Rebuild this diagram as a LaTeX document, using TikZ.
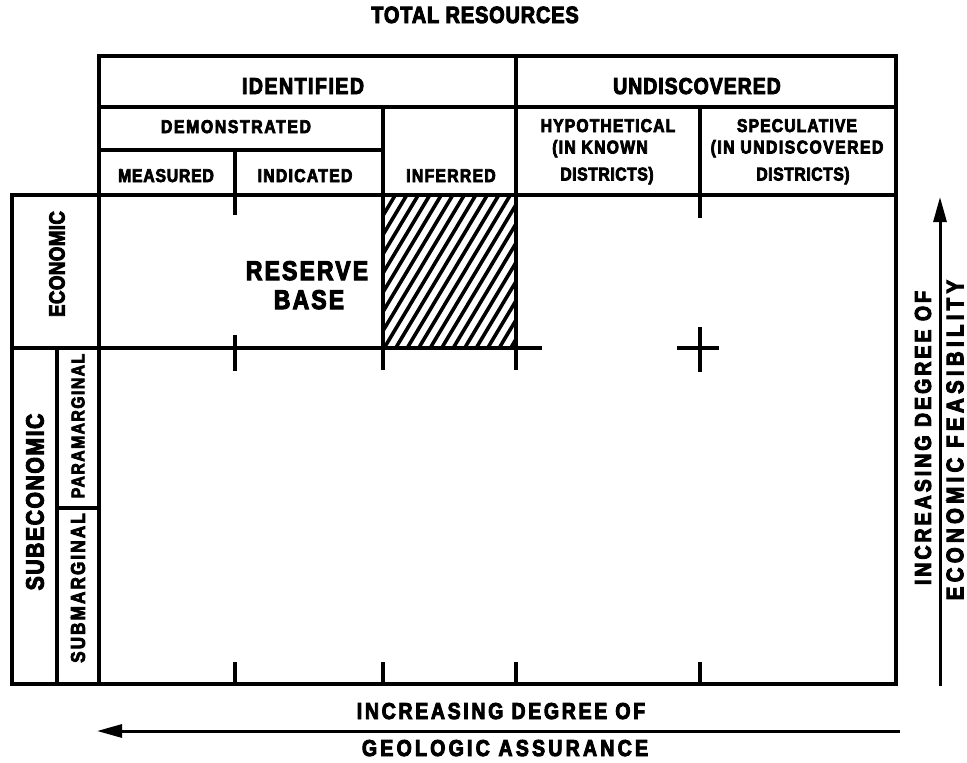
\documentclass[tikz,border=0pt]{standalone}
\usepackage{fontspec}
\setmainfont{Liberation Sans}[BoldFeatures={FakeStretch=0.85,FakeBold=4}]
\usetikzlibrary{arrows.meta}
\newcommand{\fsz}[2]{\fontsize{#1}{#1}\selectfont\bfseries\addfontfeatures{LetterSpace=#2}}
\begin{document}
\begin{tikzpicture}[x=1pt,y=-1pt,
  bd/.style={line width=3.8pt},
  tk/.style={line width=3.2pt},
  tx/.style={inner sep=0pt, anchor=base},
  vt/.style={inner sep=0pt, anchor=center, rotate=90},
  arr/.style={line width=3pt, -{Triangle[length=25pt,width=13pt]}}]
\useasboundingbox (0,0) rectangle (967,763);
\fill[white] (0,0) rectangle (967,763);

% hatching
\begin{scope}
  \clip (383,195) rectangle (516,348);
  \foreach \i in {-10,...,14}
    \draw[line width=3.6pt] (383+\i*11.5,350) -- ++(94,-157);
\end{scope}

% header
\draw[bd] (99,56) rectangle (896,195);
\draw[bd] (99,107) -- (896,107);
\draw[bd] (516,56) -- (516,195);
\draw[bd] (99,150) -- (383,150);
\draw[bd] (383,107) -- (383,195);
\draw[bd] (235,150) -- (235,195);
\draw[bd] (700,107) -- (700,195);

% main grid and side column
\draw[bd] (12,195) rectangle (896,684);
\draw[bd] (99,195) -- (99,684);
\draw[bd] (57,348) -- (57,684);
\draw[bd] (57,508) -- (99,508);
\draw[bd] (12,348) -- (542,348);
\draw[bd] (383,195) -- (383,370);
\draw[bd] (516,195) -- (516,370);

% ticks
\draw[tk] (235,195) -- (235,215);
\draw[tk] (700,195) -- (700,218);
\draw[tk] (235,335) -- (235,371);
\draw[tk] (677,348) -- (719,348);
\draw[tk] (700,327) -- (700,372);
\foreach \x in {235,383,516,700}
  \draw[tk] (\x,662) -- (\x,684);

% texts
\node[tx, font=\fsz{23.5}{3.5}] (title) at (475,23) {TOTAL RESOURCES};
\node[tx, font=\fsz{23}{6.5}] (ident) at (303,94) {IDENTIFIED};
\node[tx, font=\fsz{23}{4}] (undisc) at (697,94) {UNDISCOVERED};
\node[tx, font=\fsz{18.5}{9}] (demo) at (236,133) {DEMONSTRATED};
\node[tx, font=\fsz{18.5}{4.5}] (meas) at (166,182) {MEASURED};
\node[tx, font=\fsz{18.5}{7}] (indic) at (305,182) {INDICATED};
\node[tx, font=\fsz{18.5}{7}] (infer) at (451,182) {INFERRED};
\node[tx, font=\fsz{18.5}{6}] (hyp1) at (608,132) {HYPOTHETICAL};
\node[tx, font=\fsz{18.5}{7}] (hyp2) at (600,153.5) {(IN KNOWN};
\node[tx, font=\fsz{18.5}{3}] (hyp3) at (607,180.5) {DISTRICTS)};
\node[tx, font=\fsz{18.5}{6}] (spe1) at (797,132) {SPECULATIVE};
\node[tx, font=\fsz{18.5}{8}] (spe2) at (797,153.5) {(IN UNDISCOVERED};
\node[tx, font=\fsz{18.5}{3}] (spe3) at (803,180.5) {DISTRICTS)};

\node[tx, font=\fsz{27}{8}] (res1) at (307,280) {RESERVE};
\node[tx, font=\fsz{27}{8}] (res2) at (309,309) {BASE};

\node[vt, font=\fsz{22}{2}] (econ) at (57,264) {ECONOMIC};
\node[vt, font=\fsz{25}{6}] (subecon) at (35,502) {SUBECONOMIC};
\node[vt, font=\fsz{18.5}{8}] (para) at (78,426) {PARAMARGINAL};
\node[vt, font=\fsz{20}{11}] (subm) at (78,588) {SUBMARGINAL};

\node[vt, font=\fsz{23}{13}] (fea1) at (923,438) {INCREASING DEGREE OF};
\node[vt, font=\fsz{24}{18}] (fea2) at (955,440) {ECONOMIC FEASIBILITY};

\node[tx, font=\fsz{23}{11.5}] (geo1) at (501,719) {INCREASING DEGREE OF};
\node[tx, font=\fsz{23}{14}] (geo2) at (505,756) {GEOLOGIC ASSURANCE};

% arrows
\coordinate (ea) at (940,686);
\coordinate (eb) at (940,197);
\draw[arr] (ea) -- (eb);
\coordinate (ga) at (900,731);
\coordinate (gb) at (97,731);
\draw[arr] (ga) -- (gb);
\end{tikzpicture}
\end{document}
